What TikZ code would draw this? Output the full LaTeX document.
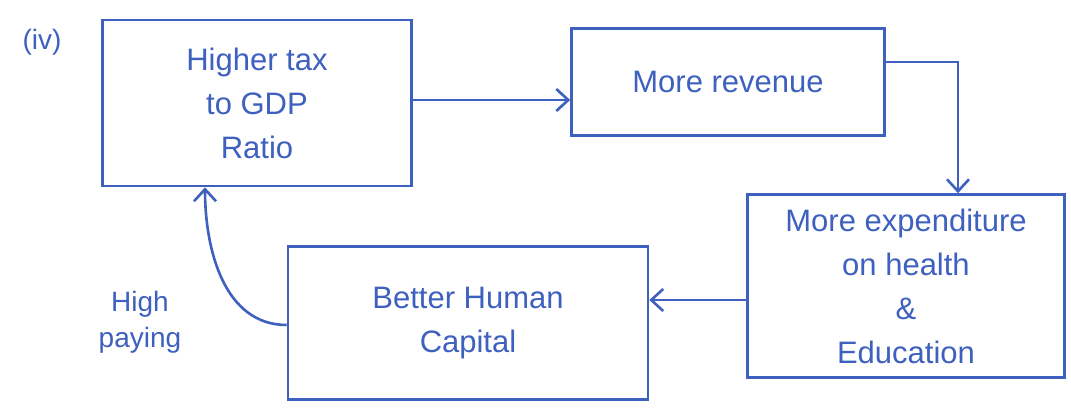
\documentclass[tikz,border=0pt]{standalone}
\usepackage{fontspec}
\setmainfont{Liberation Sans}
\usetikzlibrary{arrows.meta}
\definecolor{ink}{RGB}{62,96,190}
\begin{document}
\begin{tikzpicture}[x=1pt,y=-1pt,
  box/.style={draw=ink, line width=2.6pt, text=ink, align=center,
    inner sep=0pt, font=\fontsize{31}{44}\selectfont},
  arr/.style={draw=ink, line width=2.6pt, -{Straight Barb[length=12pt,width=22pt]}},
  lbl/.style={text=ink, align=center, font=\fontsize{28}{36}\selectfont}]
\useasboundingbox (0,0) rectangle (1071,412);
\fill[white] (0,0) rectangle (1071,412);

\node[lbl] (num) at (42,42) {(iv)};

\node[box, minimum width=309pt, minimum height=166pt] (tax) at (257,103)
  {Higher tax\\to GDP\\Ratio};
\node[box, minimum width=313pt, minimum height=107pt] (rev) at (728,82)
  {More revenue};
\node[box, minimum width=317pt, minimum height=183pt] (exp) at (906,286)
  {More expenditure\\on health\\\&\\Education};
\node[box, minimum width=360pt, minimum height=153pt] (hum) at (468,323)
  {Better Human\\Capital};

\node[lbl] (pay) at (140,322) {High\\paying};

\draw[arr] (tax.east |- 0,100) -- (rev.west |- 0,100);
\draw[arr] ([yshift=20pt]rev.east) -| ([xshift=52pt]exp.north);
\draw[arr] (exp.west |- 0,300) -- (hum.east |- 0,300);
\draw[arr] ([yshift=-2pt]hum.west) to[out=180,in=-90] ([xshift=-52pt]tax.south);
\end{tikzpicture}
\end{document}
